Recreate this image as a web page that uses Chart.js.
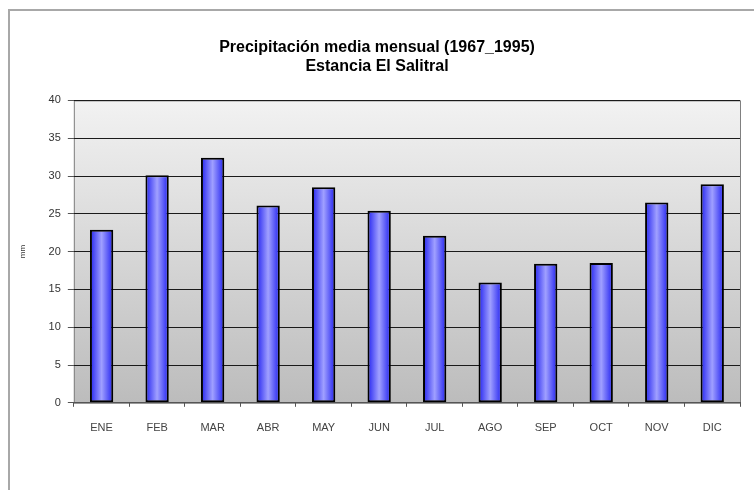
<!DOCTYPE html>
<html>
<head>
<meta charset="utf-8">
<script src="https://cdn.jsdelivr.net/npm/chart.js@4.4.1/dist/chart.umd.min.js"></script>
<style>
  html, body { margin: 0; padding: 0; background: #fff; }
  #wrap { width: 754px; height: 490px; position: relative; }
</style>
</head>
<body>
<div id="wrap"><canvas id="c" width="754" height="490"></canvas></div>
<script>
// datos
const meses = ['ENE', 'FEB', 'MAR', 'ABR', 'MAY', 'JUN', 'JUL', 'AGO', 'SEP', 'OCT', 'NOV', 'DIC'];
const precipitacion = [22.9, 30.1, 32.4, 26.1, 28.5, 25.4, 22.1, 15.9, 18.4, 18.5, 26.5, 28.9];
const titulo = ['Precipitación media mensual (1967_1995)', 'Estancia El Salitral'];

// marco gris y fondo degradado del area
const fondo = {
    id: 'fondo',
    beforeDraw(chart) {
        const c = chart.ctx;
        c.save();
        c.fillStyle = '#fff';
        c.fillRect(0, 0, chart.width, chart.height);
        c.strokeStyle = '#a8a8a8';
        c.lineWidth = 2;
        c.beginPath();
        c.moveTo(9, chart.height);
        c.lineTo(9, 10);
        c.lineTo(chart.width, 10);
        c.stroke();
        const a = chart.chartArea;
        const g = c.createLinearGradient(0, a.top, 0, a.bottom);
        g.addColorStop(0, '#f2f2f2');
        g.addColorStop(1, '#bcbcbc');
        c.fillStyle = g;
        c.fillRect(a.left, a.top, a.right - a.left, a.bottom - a.top);
        c.strokeStyle = '#808080';
        c.lineWidth = 1;
        c.strokeRect(a.left + 0.5, a.top + 0.5, a.right - a.left, a.bottom - a.top);
        c.restore();
    }
};

function barraColor(context) {
    const chart = context.chart;
    const x = chart.scales.x;
    if (!x || !chart.chartArea) return '#5555ff';
    const cx = x.getPixelForValue(context.dataIndex);
    const w = (x.width / meses.length) * 0.42;
    const g = chart.ctx.createLinearGradient(cx - w / 2, 0, cx + w / 2, 0);
    g.addColorStop(0, '#2222f0');
    g.addColorStop(0.5, '#a0a0ff');
    g.addColorStop(1, '#2222f0');
    return g;
}

const ctx = document.getElementById('c').getContext('2d');
new Chart(ctx, {
    type: 'bar',
    data: {
        labels: meses,
        datasets: [{
            label: 'mm',
            data: precipitacion,
            backgroundColor: barraColor,
            borderColor: '#000',
            borderWidth: 2,
            borderSkipped: false,
            barPercentage: 0.42,
            categoryPercentage: 1
        }]
    },
    options: {
        responsive: false,
        animation: false,
        layout: { padding: { left: 14, right: 14, top: 38, bottom: 40 } },
        plugins: {
            legend: { display: false },
            tooltip: { enabled: false },
            title: {
                display: true,
                text: titulo,
                color: '#000',
                font: { family: 'Liberation Sans', size: 16, weight: 'bold' },
                padding: { top: 0, bottom: 24 },
                lineHeight: 1.05
            }
        },
        scales: {
            y: {
                min: 0,
                max: 40,
                ticks: { stepSize: 5, color: '#333', font: { family: 'Liberation Sans', size: 11 }, padding: 7 },
                grid: { color: '#1a1a1a', lineWidth: 1, tickLength: 6, tickColor: '#555' },
                border: { display: false },
                title: { display: true, text: 'mm', color: '#333', font: { family: 'Liberation Sans', size: 8 }, padding: { bottom: 14 } }
            },
            x: {
                offset: true,
                ticks: { color: '#444', font: { family: 'Liberation Sans', size: 11 }, padding: 15 },
                grid: { drawOnChartArea: false, offset: true, tickLength: 4, color: '#555' },
                border: { display: true, color: '#555' }
            }
        }
    },
    plugins: [fondo]
});
</script>
</body>
</html>
